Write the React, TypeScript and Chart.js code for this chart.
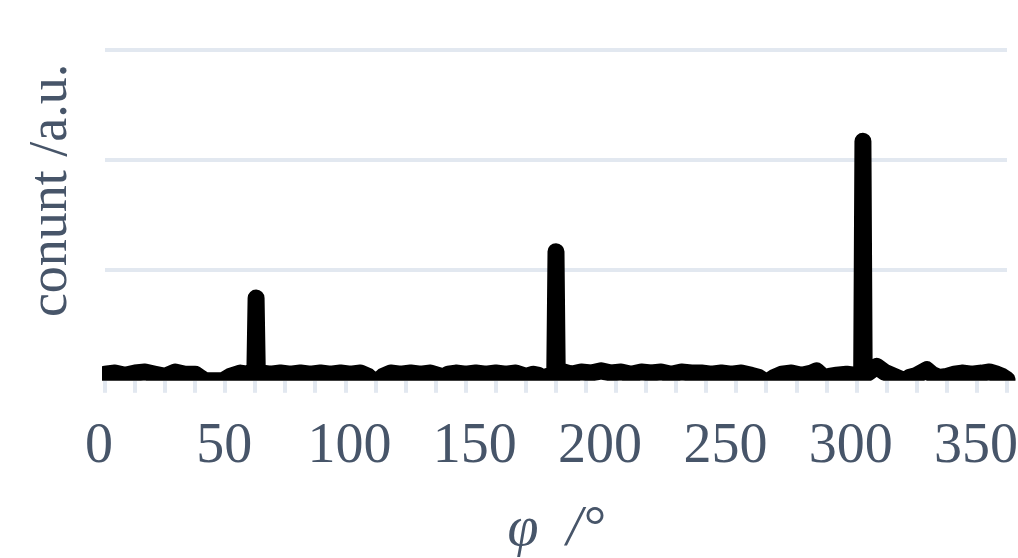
import React, { useEffect, useRef } from 'react';
import { Chart, registerables } from 'chart.js';

Chart.register(...registerables);

// Angle φ (degrees) of each sampled point
const angles = [
  0, 4, 8, 12, 16, 20, 24, 28, 32, 36, 38, 40, 44, 47, 50, 54, 57,
  59.8, 60.3, 60.8,
  63, 66, 70, 74, 78, 82, 86, 90, 94, 98, 102, 105, 107, 109, 111, 114, 118,
  122, 126, 130, 133, 135, 137, 140, 144, 148, 152, 156, 160, 164, 168, 171,
  173, 175, 176.5,
  179.5, 180.0, 180.5,
  183, 186, 190, 194, 198, 202, 206, 210, 214, 218, 222, 226, 230, 234, 238,
  242, 246, 250, 254, 258, 261, 263, 265, 267, 270, 274, 278, 282, 284, 286,
  287.5, 289, 292, 296, 299,
  302.0, 302.5, 303.0,
  305, 308, 311, 314, 317, 319, 321, 324, 328, 330, 333, 336, 339, 342, 346,
  350, 353, 356, 358, 360,
];

// Count (a.u.) at each angle
const counts = [
  6, 7, 5, 7, 8, 6, 4, 8, 6, 6, 3, 0, 0, 0, 4, 7, 6,
  6, 75, 6,
  7, 6, 7, 6, 7, 6, 7, 6, 7, 6, 7, 4, 0, 0, 4, 7, 6,
  7, 6, 7, 5, 3, 6, 7, 6, 7, 6, 7, 6, 7, 4, 6,
  5, 2, 4,
  5, 117, 5,
  8, 6, 8, 7, 9, 7, 8, 6, 8, 7, 8, 6, 8, 7, 7,
  6, 7, 6, 7, 5, 3, 0, 0, 3, 6, 7, 5, 7, 9, 5,
  2, 4, 5, 6, 5,
  5, 217, 5,
  8, 13, 8, 5, 2, 0, 3, 5, 10, 6, 3, 4, 6, 7, 6,
  7, 8, 6, 4, 1,
];

const xLabelValues = [0, 50, 100, 150, 200, 250, 300, 350];
const xTickMarkValues = [
  0, 12, 24, 36, 48, 60, 72, 84, 96, 108, 120, 132, 144, 156, 168, 180,
  192, 204, 216, 228, 240, 252, 264, 276, 288, 300, 312, 324, 336, 348, 360,
];
const yGridValues = [100, 200, 300];
const xTitle = 'φ  /°';
const yTitle = 'conunt /a.u.';

const TEXT = '#475569';
const GRID = '#e2e8f0';
const FONT = '"Liberation Serif", "Times New Roman", serif';

export default function App() {
  const ref = useRef<HTMLCanvasElement>(null);

  useEffect(() => {
    const allTicks = Array.from(new Set([...xLabelValues, ...xTickMarkValues])).sort((a, b) => a - b);
    const chart = new Chart(ref.current as HTMLCanvasElement, {
      type: 'line',
      data: {
        datasets: [
          {
            data: angles.map((a, i) => ({ x: a, y: counts[i] })),
            borderColor: '#000000',
            backgroundColor: '#000000',
            borderWidth: 17,
            borderCapStyle: 'round',
            borderJoinStyle: 'round',
            pointRadius: 0,
            pointHoverRadius: 0,
            tension: 0,
            fill: false,
            clip: { left: 3, top: 12, right: 10, bottom: 0 } as any,
          },
        ],
      },
      options: {
        animation: false,
        responsive: false,
        events: [],
        layout: { padding: { left: 0, right: 11, top: 0, bottom: 0 } },
        plugins: { legend: { display: false }, tooltip: { enabled: false } },
        scales: {
          x: {
            type: 'linear',
            min: 0,
            max: 360,
            afterBuildTicks: (s: any) => {
              s.ticks = allTicks.map((v) => ({ value: v }));
            },
            afterFit: (s: any) => {
              s.paddingRight = 0;
            },
            ticks: {
              autoSkip: false,
              maxRotation: 0,
              minRotation: 0,
              padding: 21,
              labelOffset: -6,
              color: TEXT,
              font: { family: FONT, size: 56 },
              callback: (v: any) => (xLabelValues.includes(Number(v)) ? String(v) : ''),
            },
            grid: {
              drawOnChartArea: false,
              drawTicks: true,
              tickLength: 12,
              lineWidth: 4,
              tickWidth: 4,
              tickColor: (ctx: any) =>
                ctx.tick && xTickMarkValues.includes(ctx.tick.value) ? GRID : 'rgba(0,0,0,0)',
            },
            border: { display: false },
            title: {
              display: true,
              text: xTitle,
              color: TEXT,
              font: { family: FONT, size: 56, style: 'italic', lineHeight: 1.0 },
              padding: { top: 0, bottom: 0 },
            },
          },
          y: {
            type: 'linear',
            min: 0,
            max: 345,
            ticks: { display: false, stepSize: 100, includeBounds: false },
            grid: {
              drawTicks: false,
              lineWidth: 4,
              color: (ctx: any) =>
                ctx.tick && yGridValues.includes(ctx.tick.value) ? GRID : 'rgba(0,0,0,0)',
            },
            border: { display: false },
            title: {
              display: true,
              text: yTitle,
              color: TEXT,
              font: { family: FONT, size: 54 },
              padding: { top: 19.5, bottom: 20.7 },
            },
          },
        },
      },
    });
    return () => chart.destroy();
  }, []);

  return (
    <div style={{ position: 'absolute', left: 0, top: 0, width: 1018, height: 558, background: '#fff' }}>
      <canvas ref={ref} width={1018} height={558} style={{ display: 'block' }} />
    </div>
  );
}
